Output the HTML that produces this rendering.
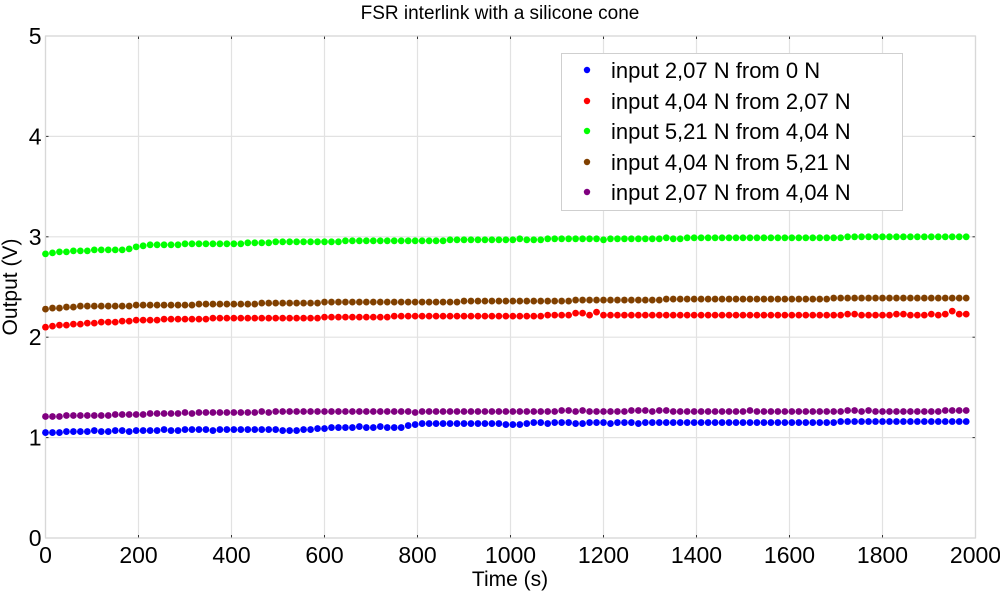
<!DOCTYPE html>
<html><head><meta charset="utf-8"><style>
body{margin:0;background:#fff;}
svg text{font-family:"Liberation Sans",Arial,sans-serif;fill:#000;}
</style></head><body>
<svg id="chart" width="1000" height="594" viewBox="0 0 1000 594" xmlns="http://www.w3.org/2000/svg">
<rect width="1000" height="594" fill="#fff"/>
<text x="500" y="19" font-size="19" text-anchor="middle">FSR interlink with a silicone cone</text>
<g id="grid"></g>
<g id="axes"></g>
<g id="series"></g>
<text x="510" y="586" font-size="21" text-anchor="middle">Time (s)</text>
<text transform="translate(17,287) rotate(-90)" font-size="21" text-anchor="middle">Output (V)</text>
<g id="legend"></g>
</svg>
<script>
const xTicks=[0,200,400,600,800,1000,1200,1400,1600,1800,2000];
const yTicks=[0,1,2,3,4,5];
const seriesNames=["input 2,07 N from 0 N","input 4,04 N from 2,07 N","input 5,21 N from 4,04 N","input 4,04 N from 5,21 N","input 2,07 N from 4,04 N"];
const seriesColors=["#0000ff","#ff0000","#00ff00","#804000","#800080"];
const sampleStep=15;
const blue=[1.05,1.05,1.05,1.06,1.06,1.06,1.06,1.07,1.06,1.06,
1.07,1.07,1.06,1.07,1.07,1.07,1.07,1.08,1.07,1.07,
1.08,1.08,1.08,1.08,1.07,1.08,1.08,1.08,1.08,1.08,
1.08,1.08,1.08,1.08,1.07,1.07,1.07,1.08,1.08,1.09,
1.09,1.10,1.10,1.10,1.10,1.11,1.10,1.10,1.11,1.10,
1.10,1.10,1.12,1.13,1.14,1.14,1.14,1.14,1.14,1.14,
1.14,1.14,1.14,1.14,1.14,1.14,1.13,1.13,1.13,1.14,
1.15,1.15,1.14,1.15,1.15,1.15,1.14,1.14,1.15,1.15,
1.15,1.14,1.15,1.15,1.15,1.14,1.15,1.15,1.15,1.15,
1.15,1.15,1.15,1.15,1.15,1.15,1.15,1.15,1.15,1.15,
1.15,1.15,1.15,1.15,1.15,1.15,1.15,1.15,1.15,1.15,
1.15,1.15,1.15,1.15,1.16,1.16,1.16,1.16,1.16,1.16,
1.16,1.16,1.16,1.16,1.16,1.16,1.16,1.16,1.16,1.16,1.16,1.16,1.16];
const red=[2.10,2.11,2.12,2.12,2.13,2.13,2.14,2.14,2.15,2.15,
2.15,2.16,2.16,2.17,2.17,2.17,2.17,2.18,2.18,2.18,
2.18,2.18,2.18,2.18,2.19,2.19,2.19,2.19,2.19,2.19,
2.19,2.19,2.19,2.19,2.19,2.19,2.19,2.19,2.19,2.19,
2.20,2.20,2.20,2.20,2.20,2.20,2.20,2.20,2.20,2.20,
2.21,2.21,2.21,2.21,2.21,2.21,2.21,2.21,2.21,2.21,
2.21,2.21,2.21,2.21,2.21,2.21,2.21,2.21,2.21,2.21,
2.21,2.21,2.22,2.22,2.22,2.22,2.24,2.24,2.22,2.25,
2.22,2.22,2.22,2.22,2.22,2.22,2.22,2.22,2.22,2.22,
2.22,2.22,2.22,2.22,2.22,2.22,2.22,2.22,2.22,2.22,
2.22,2.22,2.22,2.22,2.22,2.22,2.22,2.22,2.22,2.22,
2.22,2.22,2.22,2.22,2.22,2.23,2.23,2.22,2.22,2.22,
2.22,2.22,2.23,2.23,2.22,2.22,2.22,2.23,2.22,2.23,2.26,2.23,2.23];
const green=[2.83,2.84,2.85,2.85,2.86,2.86,2.86,2.87,2.87,2.87,
2.87,2.87,2.88,2.90,2.91,2.92,2.92,2.92,2.92,2.92,
2.93,2.93,2.93,2.93,2.93,2.93,2.93,2.93,2.93,2.94,
2.94,2.94,2.94,2.95,2.95,2.95,2.95,2.95,2.95,2.95,
2.95,2.95,2.95,2.96,2.96,2.96,2.96,2.96,2.96,2.96,
2.96,2.96,2.96,2.96,2.96,2.96,2.96,2.96,2.97,2.97,
2.97,2.97,2.97,2.97,2.97,2.97,2.97,2.97,2.98,2.97,
2.97,2.97,2.98,2.98,2.98,2.98,2.98,2.98,2.98,2.98,
2.97,2.98,2.98,2.98,2.98,2.98,2.98,2.98,2.98,2.99,
2.98,2.98,2.99,2.99,2.99,2.99,2.99,2.99,2.99,2.99,
2.99,2.99,2.99,2.99,2.99,2.99,2.99,2.99,2.99,2.99,
2.99,2.99,2.99,2.99,2.99,3.00,3.00,3.00,3.00,3.00,
3.00,3.00,3.00,3.00,3.00,3.00,3.00,3.00,3.00,3.00,3.00,3.00,3.00];
const brown=[2.28,2.29,2.29,2.30,2.30,2.31,2.31,2.31,2.31,2.31,
2.31,2.31,2.31,2.32,2.32,2.32,2.32,2.32,2.32,2.32,
2.32,2.32,2.33,2.33,2.33,2.33,2.33,2.33,2.33,2.33,
2.33,2.34,2.34,2.34,2.34,2.34,2.34,2.34,2.34,2.34,
2.35,2.35,2.35,2.35,2.35,2.35,2.35,2.35,2.35,2.35,
2.35,2.35,2.35,2.35,2.35,2.35,2.35,2.35,2.35,2.35,
2.36,2.36,2.36,2.36,2.36,2.36,2.36,2.36,2.36,2.36,
2.36,2.36,2.36,2.36,2.36,2.36,2.37,2.37,2.37,2.37,
2.37,2.37,2.37,2.37,2.37,2.37,2.37,2.37,2.37,2.38,
2.38,2.38,2.38,2.38,2.38,2.38,2.38,2.38,2.38,2.38,
2.38,2.38,2.38,2.38,2.38,2.38,2.38,2.38,2.38,2.38,
2.38,2.38,2.38,2.39,2.39,2.39,2.39,2.39,2.39,2.39,
2.39,2.39,2.39,2.39,2.39,2.39,2.39,2.39,2.39,2.39,2.39,2.39,2.39];
const purple=[1.21,1.21,1.21,1.22,1.22,1.22,1.22,1.22,1.22,1.22,
1.23,1.23,1.23,1.23,1.23,1.24,1.24,1.24,1.24,1.24,
1.25,1.24,1.25,1.25,1.25,1.25,1.25,1.25,1.25,1.25,
1.25,1.26,1.25,1.26,1.26,1.26,1.26,1.26,1.26,1.26,
1.26,1.26,1.26,1.26,1.26,1.26,1.26,1.26,1.26,1.26,
1.26,1.26,1.26,1.25,1.26,1.26,1.26,1.26,1.26,1.26,
1.26,1.26,1.26,1.26,1.26,1.26,1.26,1.26,1.26,1.26,
1.26,1.26,1.26,1.26,1.27,1.27,1.26,1.27,1.26,1.26,
1.26,1.26,1.26,1.26,1.27,1.27,1.27,1.26,1.27,1.27,
1.26,1.26,1.26,1.26,1.26,1.26,1.26,1.26,1.26,1.26,
1.26,1.27,1.26,1.26,1.26,1.26,1.26,1.26,1.26,1.26,
1.26,1.26,1.26,1.26,1.26,1.27,1.27,1.26,1.27,1.26,
1.26,1.26,1.26,1.26,1.26,1.26,1.26,1.26,1.26,1.27,1.27,1.27,1.27];
const seriesValues=[blue,red,green,brown,purple];

const NS="http://www.w3.org/2000/svg";
const X0=45.5,X1=975.5,Y0=538,Y1=36;
function xScale(t){return X0+(t-0)/(2000-0)*(X1-X0);}
function yScale(v){return Y0-(v-0)/(5-0)*(Y0-Y1);}
function mk(tag,attrs,parent){const e=document.createElementNS(NS,tag);for(const k in attrs)e.setAttribute(k,attrs[k]);parent.appendChild(e);return e;}
const grid=document.getElementById('grid'),axes=document.getElementById('axes'),series=document.getElementById('series'),legend=document.getElementById('legend');
xTicks.forEach(t=>{const x=xScale(t);
 const l=mk('line',{x1:x,x2:x,y1:Y1,y2:Y0,stroke:'#e2e2e2','stroke-width':1.2},grid);
 
 
 mk('line',{x1:x,x2:x,y1:Y1,y2:Y1+3,stroke:'#333','stroke-width':1},axes);
 mk('line',{x1:x,x2:x,y1:Y0,y2:Y0-3,stroke:'#333','stroke-width':1},axes);
 const tx=mk('text',{x:x,y:Y0+25,'font-size':23,'text-anchor':'middle'},axes);tx.textContent=t;
 
 
});
yTicks.forEach(v=>{const y=yScale(v);
 const l=mk('line',{x1:X0,x2:X1,y1:y,y2:y,stroke:'#e2e2e2','stroke-width':1.2},grid);
 
 
 mk('line',{x1:X0,x2:X0+3,y1:y,y2:y,stroke:'#333','stroke-width':1},axes);
 mk('line',{x1:X1,x2:X1-3,y1:y,y2:y,stroke:'#333','stroke-width':1},axes);
 const tx=mk('text',{x:X0-4,y:y+8,'font-size':23,'text-anchor':'end'},axes);tx.textContent=v;
 
 
});
const box=mk('rect',{x:X0,y:Y1,width:X1-X0,height:Y0-Y1,fill:'none',stroke:'#d8d8d8','stroke-width':1.2},axes);


seriesValues.forEach((vals,si)=>{
 const g=mk('g',{fill:seriesColors[si]},series);
 
 
 vals.forEach((v,i)=>{
  const c=mk('circle',{cx:xScale(i*sampleStep),cy:yScale(v),r:3.4},g);
  
  
 });
});
const lb=mk('rect',{x:561.5,y:53.5,width:341,height:157,fill:'#fff',stroke:'#cfcfcf','stroke-width':1},legend);


const ly=[70,101,131,162,192];
seriesNames.forEach((n,i)=>{
 const g=mk('g',{},legend);
 
 
 mk('circle',{cx:587,cy:ly[i],r:3.2,fill:seriesColors[i]},g);
 const t=mk('text',{x:611,y:ly[i]+8,'font-size':22},g);t.textContent=n;
});
</script>
</body></html>
